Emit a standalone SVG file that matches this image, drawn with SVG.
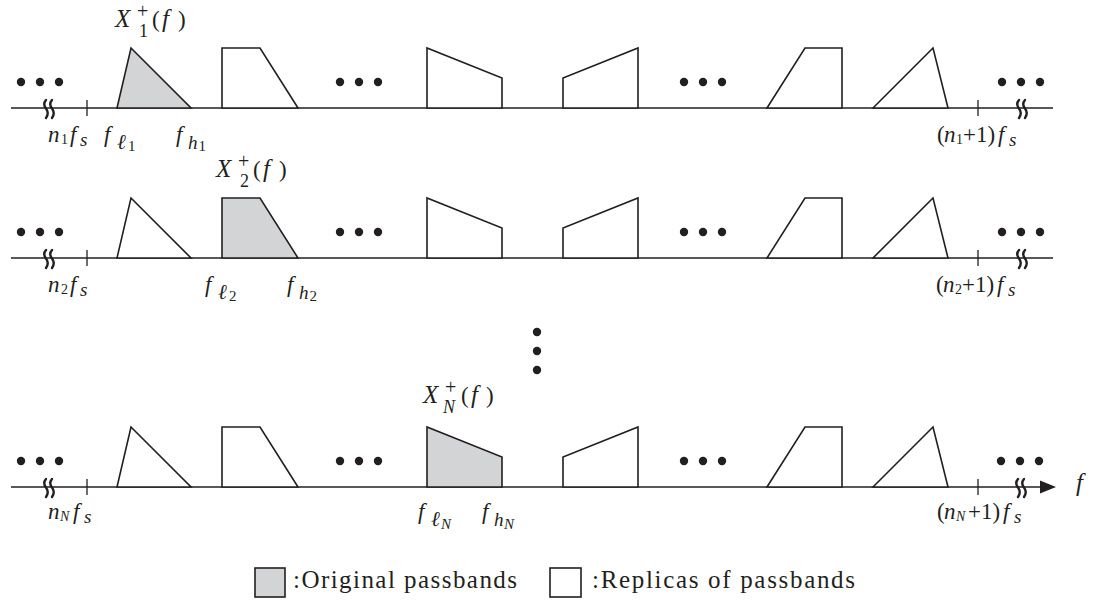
<svg xmlns="http://www.w3.org/2000/svg" width="1093" height="601" viewBox="0 0 1093 601" font-family="'Liberation Serif', 'Times New Roman', serif" font-size="23">
<defs>
<style>
.ax{stroke:#231f20;stroke-width:1.7;fill:none}
.tk{stroke:#231f20;stroke-width:1.3;fill:none}
.brk{stroke:#231f20;stroke-width:2.4;fill:none;stroke-linecap:round}
.rep{fill:#ffffff;stroke:#231f20;stroke-width:1.6;stroke-linejoin:miter}
.orig{fill:#d3d4d6;stroke:#231f20;stroke-width:1.6;stroke-linejoin:miter}
.dot{fill:#231f20}
.i{font-style:italic}
.sb{font-size:19px}
.el{font-size:21px}
.ss{font-size:14px}
.s2{font-size:15px}
.sp{font-size:20px}
.sx{font-size:18px}
.pf{font-size:25px}
.lg{font-size:25px}
</style>
<g id="dots3">
<circle cx="0" cy="0" r="4.2" class="dot"/>
<circle cx="19" cy="0" r="4.2" class="dot"/>
<circle cx="38" cy="0" r="4.2" class="dot"/>
</g>
<g id="brk">
<path d="M0,-8 q-3.5,4 0,8.5 q3.5,4.5 0,9.5" class="brk"/>
<path d="M6,-8 q-3.5,4 0,8.5 q3.5,4.5 0,9.5" class="brk"/>
</g>
</defs>
<rect width="1093" height="601" fill="#ffffff"/>

<g id="connectors">
<line x1="11" y1="108" x2="1053" y2="108" class="ax"/>
<line x1="11" y1="258" x2="1053" y2="258" class="ax"/>
<line x1="11" y1="487" x2="1042" y2="487" class="ax"/>
<polygon points="1040,480.5 1056,487 1040,493.5" fill="#231f20"/>
</g>

<g id="row1" fill="#231f20">
<line x1="87" y1="100" x2="87" y2="116" class="tk"/>
<line x1="978" y1="100" x2="978" y2="116" class="tk"/>
<use href="#brk" x="46" y="108"/>
<use href="#brk" x="1019" y="108"/>
<use href="#dots3" x="21" y="82"/>
<use href="#dots3" x="340" y="82"/>
<use href="#dots3" x="684" y="82"/>
<use href="#dots3" x="1002" y="82"/>
<polygon points="117,108 131,48 191,108" class="orig"/>
<polygon points="222,108 222,48 260,48 298,108" class="rep"/>
<polygon points="427,108 427,48 502,78 502,108" class="rep"/>
<polygon points="563,108 563,78 638,48 638,108" class="rep"/>
<polygon points="767,108 805,48 842,48 842,108" class="rep"/>
<polygon points="873,108 933,48 948,108" class="rep"/>
<text x="115" y="27" class="i pf">X</text><text x="137" y="18" class="sp">+</text><text x="139" y="37" class="sx">1</text><text x="152" y="27">(</text><text x="162" y="27" class="i pf">f</text><text x="178" y="27">)</text>
<text x="48" y="142" class="i">n</text><text x="61" y="144" class="ss">1</text><text x="70" y="142" class="i">f</text><text x="80" y="146" class="i sb">s</text>
<text x="104" y="142" class="i">f</text><text x="117" y="149" class="i el">ℓ</text><text x="128" y="151" class="s2">1</text>
<text x="176" y="142" class="i">f</text><text x="188" y="149" class="i sb">h</text><text x="198.5" y="151" class="s2">1</text>
<text x="937" y="142">(</text><text x="944" y="142" class="i">n</text><text x="956" y="144" class="ss">1</text><text x="963" y="142">+1)</text><text x="998" y="142" class="i">f</text><text x="1009" y="146" class="i sb">s</text>
</g>

<g id="row2" fill="#231f20">
<line x1="87" y1="250" x2="87" y2="266" class="tk"/>
<line x1="978" y1="250" x2="978" y2="266" class="tk"/>
<use href="#brk" x="46" y="258"/>
<use href="#brk" x="1019" y="258"/>
<use href="#dots3" x="21" y="232"/>
<use href="#dots3" x="340" y="232"/>
<use href="#dots3" x="684" y="232"/>
<use href="#dots3" x="1002" y="232"/>
<polygon points="117,258 131,198 191,258" class="rep"/>
<polygon points="222,258 222,198 260,198 298,258" class="orig"/>
<polygon points="427,258 427,198 502,228 502,258" class="rep"/>
<polygon points="563,258 563,228 638,198 638,258" class="rep"/>
<polygon points="767,258 805,198 842,198 842,258" class="rep"/>
<polygon points="873,258 933,198 948,258" class="rep"/>
<text x="216" y="177" class="i pf">X</text><text x="238" y="168" class="sp">+</text><text x="240" y="187" class="sx">2</text><text x="253" y="177">(</text><text x="263" y="177" class="i pf">f</text><text x="279" y="177">)</text>
<text x="48" y="292" class="i">n</text><text x="61" y="294" class="ss">2</text><text x="70" y="292" class="i">f</text><text x="80" y="296" class="i sb">s</text>
<text x="205" y="292" class="i">f</text><text x="218" y="299" class="i el">ℓ</text><text x="229" y="301" class="s2">2</text>
<text x="287" y="292" class="i">f</text><text x="299" y="299" class="i sb">h</text><text x="309.5" y="301" class="s2">2</text>
<text x="936" y="292">(</text><text x="943" y="292" class="i">n</text><text x="955" y="294" class="ss">2</text><text x="962" y="292">+1)</text><text x="997" y="292" class="i">f</text><text x="1008" y="296" class="i sb">s</text>
</g>

<g id="vdots">
<circle cx="537" cy="332" r="4.2" class="dot"/>
<circle cx="537" cy="351" r="4.2" class="dot"/>
<circle cx="537" cy="370" r="4.2" class="dot"/>
</g>

<g id="row3" fill="#231f20">
<line x1="87" y1="479" x2="87" y2="495" class="tk"/>
<line x1="978" y1="479" x2="978" y2="495" class="tk"/>
<use href="#brk" x="46" y="487"/>
<use href="#brk" x="1018" y="487"/>
<use href="#dots3" x="21" y="461"/>
<use href="#dots3" x="340" y="461"/>
<use href="#dots3" x="684" y="461"/>
<use href="#dots3" x="1001" y="461"/>
<polygon points="117,487 131,427 191,487" class="rep"/>
<polygon points="222,487 222,427 260,427 298,487" class="rep"/>
<polygon points="427,487 427,427 502,457 502,487" class="orig"/>
<polygon points="563,487 563,457 638,427 638,487" class="rep"/>
<polygon points="767,487 805,427 842,427 842,487" class="rep"/>
<polygon points="873,487 933,427 948,487" class="rep"/>
<text x="423" y="403" class="i pf">X</text><text x="445" y="394" class="sp">+</text><text x="443" y="413" class="i sx">N</text><text x="461" y="403">(</text><text x="471" y="403" class="i pf">f</text><text x="486" y="403">)</text>
<text x="48" y="519" class="i">n</text><text x="60" y="521" class="i ss">N</text><text x="73" y="519" class="i">f</text><text x="84" y="523" class="i sb">s</text>
<text x="418" y="519" class="i">f</text><text x="431" y="526" class="i el">ℓ</text><text x="441" y="529" class="i s2">N</text>
<text x="482" y="519" class="i">f</text><text x="494" y="526" class="i sb">h</text><text x="504" y="529" class="i s2">N</text>
<text x="937" y="519">(</text><text x="944" y="519" class="i">n</text><text x="956" y="521" class="i ss">N</text><text x="968" y="519">+1)</text><text x="1003" y="519" class="i">f</text><text x="1014" y="523" class="i sb">s</text>
<text x="1076" y="491" class="i" font-size="25">f</text>
</g>

<g id="legend" fill="#231f20">
<rect x="255" y="568" width="30" height="29" class="orig"/>
<text x="293" y="588" class="lg" textLength="224" lengthAdjust="spacing">:Original passbands</text>
<rect x="550" y="568" width="31" height="29" class="rep"/>
<text x="592" y="588" class="lg" textLength="263" lengthAdjust="spacing">:Replicas of passbands</text>
</g>
</svg>
